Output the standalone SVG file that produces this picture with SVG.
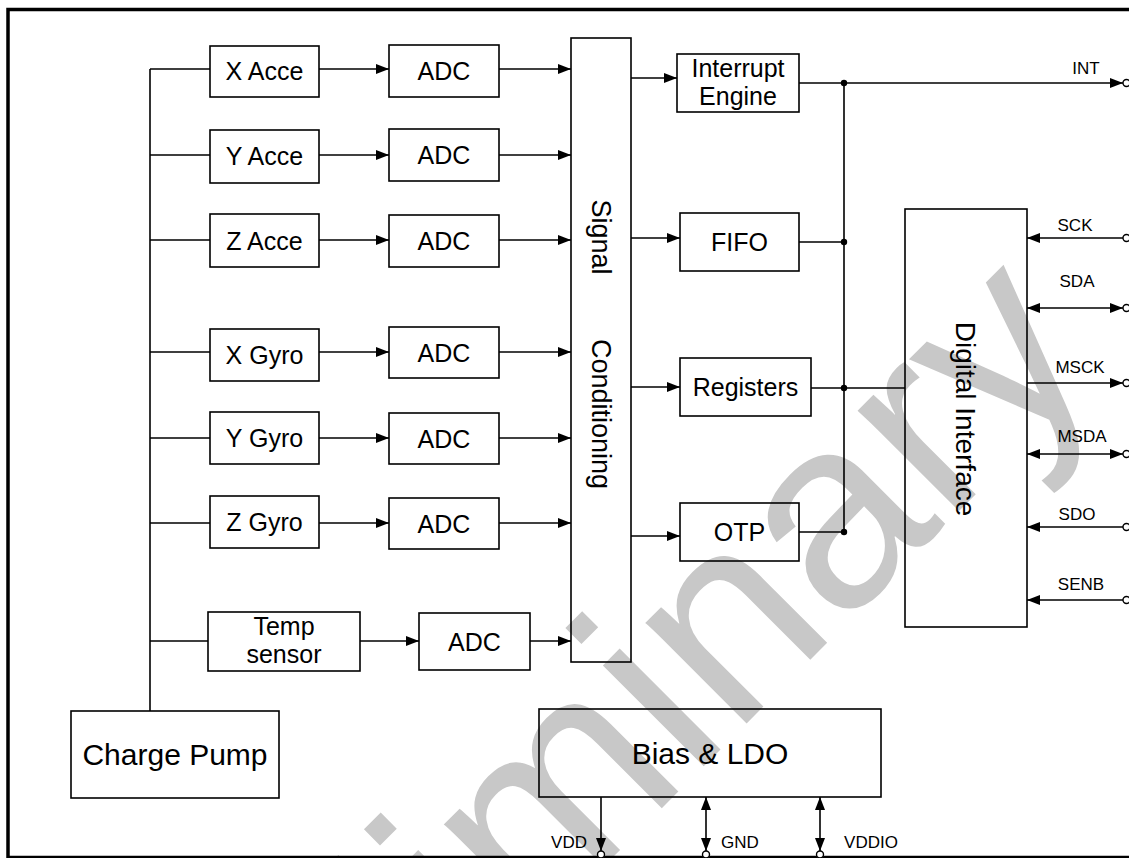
<svg xmlns="http://www.w3.org/2000/svg" width="1129" height="858" viewBox="0 0 1129 858">
<defs>
<style>
.box{fill:none;stroke:#000;stroke-width:1.6}
.ln{fill:none;stroke:#000;stroke-width:1.6}
.arr{marker-end:url(#ah)}
.dbl{marker-start:url(#ah);marker-end:url(#ah)}
.t{font-family:"Liberation Sans",Arial,sans-serif;font-size:25px;fill:#000;text-anchor:middle}
.pin{font-size:17px}
.big{font-size:30px}
.pc{fill:#fff;stroke:#000;stroke-width:1.4}
.dot{fill:#000}
.wm{font-family:"Liberation Sans",Arial,sans-serif;font-size:270px;fill:#c8c8c8}
</style>
<marker id="ah" viewBox="0 0 13 10" refX="13" refY="5" markerWidth="13" markerHeight="10" markerUnits="userSpaceOnUse" orient="auto-start-reverse"><path d="M0,0 L13,5 L0,10 z" fill="#000"/></marker>
</defs>
<rect width="1129" height="858" fill="#fff"/>
<text class="wm" transform="translate(150,1320) rotate(-45)">Preliminary</text>
<rect x="8" y="9.5" width="1140" height="848" fill="none" stroke="#000" stroke-width="3.5"/>

<g id="connectors">
<path class="ln" d="M150,69 V711"/>
<path class="ln" d="M150,69 H210 M150,155 H210 M150,240 H210 M150,352 H210 M150,438 H210 M150,523 H210 M150,641 H208"/>
<path class="ln arr" d="M319,69 H389"/>
<path class="ln arr" d="M319,155 H389"/>
<path class="ln arr" d="M319,240 H389"/>
<path class="ln arr" d="M319,352 H389"/>
<path class="ln arr" d="M319,438 H389"/>
<path class="ln arr" d="M319,523 H389"/>
<path class="ln arr" d="M360,641 H419"/>
<path class="ln arr" d="M499,69 H571"/>
<path class="ln arr" d="M499,155 H571"/>
<path class="ln arr" d="M499,240 H571"/>
<path class="ln arr" d="M499,352 H571"/>
<path class="ln arr" d="M499,438 H571"/>
<path class="ln arr" d="M499,523 H571"/>
<path class="ln arr" d="M530,641 H571"/>
<path class="ln arr" d="M631,78 H677"/>
<path class="ln arr" d="M631,238 H680"/>
<path class="ln arr" d="M631,387 H680"/>
<path class="ln arr" d="M631,536 H680"/>
<path class="ln arr" d="M799,83 H1123"/>
<path class="ln" d="M799,242 H844 M811,388 H905 M799,532 H844 M844,83 V532"/>
<circle class="dot" cx="844" cy="83" r="3.2"/>
<circle class="dot" cx="844" cy="242" r="3.2"/>
<circle class="dot" cx="844" cy="388" r="3.2"/>
<circle class="dot" cx="844" cy="532" r="3.2"/>
<path class="ln arr" d="M1123,238 H1027"/>
<path class="ln dbl" d="M1027,308 H1123"/>
<path class="ln arr" d="M1027,383 H1123"/>
<path class="ln dbl" d="M1027,454 H1123"/>
<path class="ln arr" d="M1123,527 H1027"/>
<path class="ln arr" d="M1123,600 H1027"/>
<path class="ln arr" d="M601,797 V851"/>
<path class="ln dbl" d="M706,797 V851"/>
<path class="ln dbl" d="M820,797 V851"/>
<circle class="pc" cx="1126.5" cy="83" r="3.5"/>
<circle class="pc" cx="1126.5" cy="238" r="3.5"/>
<circle class="pc" cx="1126.5" cy="308" r="3.5"/>
<circle class="pc" cx="1126.5" cy="383" r="3.5"/>
<circle class="pc" cx="1126.5" cy="454" r="3.5"/>
<circle class="pc" cx="1126.5" cy="527" r="3.5"/>
<circle class="pc" cx="1126.5" cy="600" r="3.5"/>
<circle class="pc" cx="601" cy="854.5" r="3.5"/>
<circle class="pc" cx="706" cy="854.5" r="3.5"/>
<circle class="pc" cx="820" cy="854.5" r="3.5"/>
</g>

<g id="pin-labels">
<text class="t pin" x="1086" y="74">INT</text>
<text class="t pin" x="1075" y="231">SCK</text>
<text class="t pin" x="1077" y="287">SDA</text>
<text class="t pin" x="1080" y="373">MSCK</text>
<text class="t pin" x="1082" y="442">MSDA</text>
<text class="t pin" x="1077" y="520">SDO</text>
<text class="t pin" x="1081" y="590">SENB</text>
<text class="t pin" x="569" y="848">VDD</text>
<text class="t pin" x="740" y="848">GND</text>
<text class="t pin" x="871" y="848">VDDIO</text>
</g>

<g id="x-acce"><rect class="box" x="210" y="46" width="109" height="51"/><text class="t" x="264.5" y="80">X Acce</text></g>
<g id="y-acce"><rect class="box" x="210" y="130" width="109" height="53"/><text class="t" x="264.5" y="165">Y Acce</text></g>
<g id="z-acce"><rect class="box" x="210" y="214" width="109" height="53"/><text class="t" x="264.5" y="249.5">Z Acce</text></g>
<g id="x-gyro"><rect class="box" x="210" y="329" width="109" height="52"/><text class="t" x="264.5" y="364">X Gyro</text></g>
<g id="y-gyro"><rect class="box" x="210" y="412" width="109" height="52"/><text class="t" x="264.5" y="447">Y Gyro</text></g>
<g id="z-gyro"><rect class="box" x="210" y="496" width="109" height="52"/><text class="t" x="264.5" y="531">Z Gyro</text></g>
<g id="temp"><rect class="box" x="208" y="612" width="152" height="59"/><text class="t" x="284" y="635">Temp</text><text class="t" x="284" y="663">sensor</text></g>
<g id="adc-xa"><rect class="box" x="389" y="45" width="110" height="52"/><text class="t" x="444" y="80">ADC</text></g>
<g id="adc-ya"><rect class="box" x="389" y="129" width="110" height="52"/><text class="t" x="444" y="164">ADC</text></g>
<g id="adc-za"><rect class="box" x="389" y="215" width="110" height="52"/><text class="t" x="444" y="250">ADC</text></g>
<g id="adc-xg"><rect class="box" x="389" y="327" width="110" height="51"/><text class="t" x="444" y="361.5">ADC</text></g>
<g id="adc-yg"><rect class="box" x="389" y="413" width="110" height="51"/><text class="t" x="444" y="447.5">ADC</text></g>
<g id="adc-zg"><rect class="box" x="389" y="498" width="110" height="51"/><text class="t" x="444" y="532.5">ADC</text></g>
<g id="adc-t"><rect class="box" x="419" y="613" width="111" height="57"/><text class="t" x="474.5" y="650.5">ADC</text></g>
<g id="charge-pump"><rect class="box" x="71" y="711" width="208" height="87"/><text class="t big" x="175" y="765">Charge Pump</text></g>
<g id="signal-conditioning"><rect class="box" x="571" y="38" width="60" height="624"/>
<text class="t" style="font-size:27px" transform="translate(601,237) rotate(90)" y="9.5">Signal</text>
<text class="t" style="font-size:27px" transform="translate(601,414) rotate(90)" y="9.5">Conditioning</text></g>
<g id="interrupt-engine"><rect class="box" x="677" y="54" width="122" height="58"/><text class="t" x="738" y="77">Interrupt</text><text class="t" x="738" y="105">Engine</text></g>
<g id="fifo"><rect class="box" x="680" y="213" width="119" height="58"/><text class="t" x="739.5" y="251">FIFO</text></g>
<g id="registers"><rect class="box" x="680" y="358" width="131" height="58"/><text class="t" x="745.5" y="396">Registers</text></g>
<g id="otp"><rect class="box" x="680" y="503" width="119" height="58"/><text class="t" x="739.5" y="541">OTP</text></g>
<g id="digital-interface"><rect class="box" x="905" y="209" width="122" height="418"/>
<text class="t" style="font-size:28px" transform="translate(966,419) rotate(90)" y="10">Digital Interface</text></g>
<g id="bias-ldo"><rect class="box" x="539" y="709" width="342" height="88"/><text class="t big" x="710" y="764">Bias &amp; LDO</text></g>
</svg>
